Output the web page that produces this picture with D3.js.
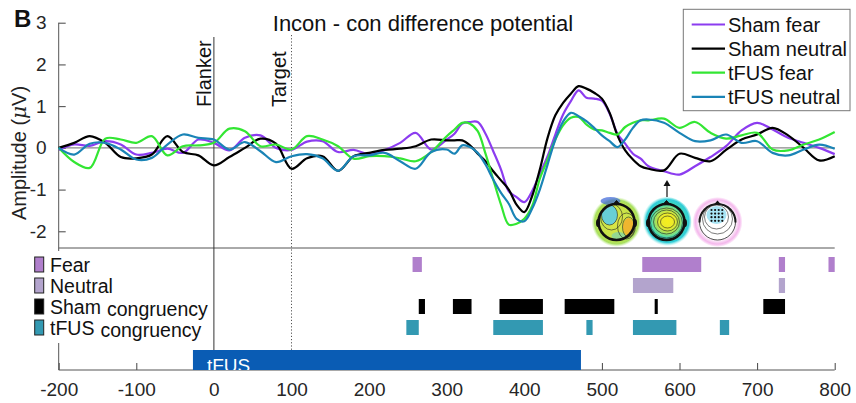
<!DOCTYPE html>
<html>
<head>
<meta charset="utf-8">
<script src="https://cdn.jsdelivr.net/npm/d3@7"></script>
<style>
body { margin: 0; background: #fff; }
svg { font-family: Arial, "Liberation Sans", Helvetica, sans-serif; }
</style>
</head>
<body>
<svg width="856" height="403"></svg>
<script>
// sampling times (ms), finer around the N2/P3 part
var times = [-200, -180, -160, -140, -120, -100, -80, -60, -40, -20, 0, 20, 40, 60, 80, 100, 120, 140, 160, 180, 200, 220, 240, 260, 280,
  300, 310, 320, 330, 340, 350, 360, 370, 380, 390, 400, 410, 420, 430, 440, 450, 460, 470, 480, 490, 500, 510, 520, 530, 540, 550, 560,
  580, 600, 620, 640, 660, 680, 700, 720, 740, 760, 780, 800];

var shamFear = [-0.05, 0.08, 0.05, 0.16, 0.08, -0.16, -0.12, -0.02, -0.12, 0.2, 0.12, -0.06, 0.24, 0.3, 0.0, -0.05, 0.15, 0.16, -0.1, -0.05, -0.15, -0.05, 0.12, 0.36, -0.04,
  0.2, 0.34, 0.58, 0.62, 0.62, 0.34, -0.08, -0.52, -1.04, -1.18, -1.3, -1.04, -0.62, -0.2, 0.32, 0.8, 1.12, 1.38, 1.2, 1.18, 1.13, 0.82, 0.34, 0.1, -0.14, -0.26, -0.44,
  -0.56, -0.64, -0.44, -0.22, 0.04, 0.42, 0.6, 0.44, 0.24, 0.12, 0.0, -0.15];

var shamNeutral = [0.0, 0.12, 0.28, 0.12, -0.22, -0.25, -0.16, 0.28, -0.1, -0.18, -0.42, -0.22, 0.0, 0.22, 0.1, -0.5, -0.25, -0.2, -0.55, -0.2, -0.12, -0.05, -0.02, 0.04, 0.2,
  0.18, 0.18, 0.18, 0.06, -0.14, -0.32, -0.56, -0.78, -1.0, -1.36, -1.54, -1.16, -0.52, 0.24, 0.78, 1.08, 1.3, 1.48, 1.42, 1.32, 1.18, 0.84, 0.3, -0.06, -0.28, -0.44, -0.5,
  -0.54, -0.14, -0.24, -0.32, -0.05, 0.2, 0.32, 0.48, 0.3, 0.0, -0.3, -0.2];

var tfusFear = [0.0, -0.34, -0.48, 0.22, 0.2, 0.12, 0.28, -0.18, 0.04, 0.06, 0.12, 0.46, 0.4, 0.04, 0.08, -0.04, 0.28, 0.2, 0.04, -0.26, -0.2, -0.2, -0.25, -0.32, -0.1,
  0.28, 0.44, 0.6, 0.58, 0.4, -0.14, -0.76, -1.36, -1.84, -1.82, -1.7, -1.4, -0.74, -0.28, 0.2, 0.54, 0.72, 0.74, 0.56, 0.44, 0.42, 0.36, 0.32, 0.5, 0.6, 0.66, 0.66,
  0.7, 0.48, 0.62, 0.36, 0.22, 0.3, 0.36, -0.04, -0.06, 0.08, 0.2, 0.38];

var tfusNeutral = [0.0, -0.16, 0.1, 0.12, -0.04, -0.28, -0.24, 0.08, 0.32, 0.24, 0.2, -0.04, 0.14, -0.08, -0.34, -0.2, -0.15, -0.25, -0.55, -0.2, -0.18, -0.12, -0.32, -0.5, -0.1,
  -0.04, -0.14, 0.06, 0.02, -0.12, -0.4, -0.76, -1.08, -1.34, -1.7, -1.76, -1.46, -1.0, -0.4, 0.2, 0.63, 0.84, 0.76, 0.64, 0.48, 0.3, 0.16, 0.02, 0.2, 0.48, 0.66, 0.68,
  0.6, 0.36, 0.16, 0.18, 0.32, 0.12, 0.16, -0.12, -0.18, -0.04, 0.08, -0.02];

var seriesNames = ['Sham fear', 'Sham neutral', 'tFUS fear', 'tFUS neutral'];
var seriesColors = ['#8c3cf0', '#000000', '#33e633', '#1a84b6'];

// significant windows (ms)
var sigRows = ['Fear', 'Neutral', 'Sham congruency', 'tFUS congruency'];
var fearSig = [[256, 268], [552, 628], [728, 736], [792, 800]];
var neutralSig = [[540, 592], [728, 736]];
var shamSig = [[264, 272], [308, 332], [368, 424], [452, 516], [568, 572], [708, 736]];
var tfusSig = [[248, 264], [360, 424], [480, 488], [540, 596], [652, 664]];
var sigColors = ['#b07fcc', '#b3a4cd', '#000000', '#3399b2'];

var tfusWindow = [-27, 473];
var yTicks = [-2, -1, 0, 1, 2, 3];
var xTicks = [-200, -100, 0, 100, 200, 300, 400, 500, 600, 700, 800];

var svg = d3.select('svg');
var x = d3.scaleLinear().domain([-200, 800]).range([58.7, 834.7]);
var y = d3.scaleLinear().domain([-2.4, 3]).range([248, 22.7]);
var bottomY = 370;

// zero line
svg.append('line')
  .attr('x1', x(-200)).attr('x2', x(800))
  .attr('y1', y(0)).attr('y2', y(0))
  .attr('stroke', '#888').attr('stroke-width', 1.2);

// axes
var yAxis = svg.append('g')
  .attr('transform', 'translate(' + x(-200) + ',0)')
  .call(d3.axisLeft(y).tickValues(yTicks).tickSizeInner(-7).tickSizeOuter(0).tickPadding(12).tickFormat(d => String(d)));
var xAxis = svg.append('g')
  .attr('transform', 'translate(0,' + bottomY + ')')
  .call(d3.axisBottom(x).tickValues(xTicks).tickSizeInner(-7).tickSizeOuter(0).tickPadding(13).tickFormat(d => String(d)));
[yAxis, xAxis].forEach(function (g) {
  g.select('.domain').remove();
  g.selectAll('.tick line').attr('stroke', '#444');
  g.selectAll('.tick text').attr('font-size', 19).attr('fill', '#262626')
    .attr('font-family', 'Arial, "Liberation Sans", sans-serif');
});

svg.append('line').attr('x1', x(-200)).attr('x2', x(-200)).attr('y1', y(3)).attr('y2', bottomY)
  .attr('stroke', '#555');
svg.append('line').attr('x1', x(-200)).attr('x2', x(800)).attr('y1', bottomY).attr('y2', bottomY)
  .attr('stroke', '#555');
svg.append('line').attr('x1', x(-200)).attr('x2', x(800)).attr('y1', y(-2.4)).attr('y2', y(-2.4))
  .attr('stroke', '#555');

// event markers
svg.append('line').attr('x1', x(0)).attr('x2', x(0)).attr('y1', 37).attr('y2', bottomY)
  .attr('stroke', '#333').attr('stroke-width', 1);
svg.append('line').attr('x1', x(100)).attr('x2', x(100)).attr('y1', 35).attr('y2', bottomY)
  .attr('stroke', '#555').attr('stroke-width', 1).attr('stroke-dasharray', '1.2,2');
svg.append('text').attr('transform', 'translate(' + (x(0) - 3.4) + ',107) rotate(-90)')
  .attr('font-size', 20).attr('fill', '#111').text('Flanker');
svg.append('text').attr('transform', 'translate(' + (x(100) - 5.7) + ',107) rotate(-90)')
  .attr('font-size', 20).attr('fill', '#111').text('Target');

// ERP lines
var line = d3.line()
  .x((d, i) => x(times[i]))
  .y(d => y(d))
  .curve(d3.curveCatmullRom.alpha(0.5));
[shamFear, shamNeutral, tfusFear, tfusNeutral].forEach(function (s, i) {
  svg.append('path')
    .attr('d', line(s))
    .attr('fill', 'none')
    .attr('stroke', seriesColors[i])
    .attr('stroke-width', 2.2)
    .attr('stroke-linejoin', 'round');
});

// significance bars
var row = d3.scaleBand().domain(sigRows).range([254, 338]).paddingInner(0.286).paddingOuter(0.143);
[fearSig, neutralSig, shamSig, tfusSig].forEach(function (wins, i) {
  svg.append('g').selectAll('rect')
    .data(wins)
    .enter()
    .append('rect')
      .attr('x', d => x(d[0]))
      .attr('width', d => x(d[1]) - x(d[0]))
      .attr('y', row(sigRows[i]))
      .attr('height', row.bandwidth())
      .attr('fill', sigColors[i]);
});

// tFUS stimulation bar
svg.append('clipPath').attr('id', 'tfusClip')
  .append('rect')
    .attr('x', x(tfusWindow[0])).attr('y', 350)
    .attr('width', x(tfusWindow[1]) - x(tfusWindow[0])).attr('height', bottomY - 350);
svg.append('rect')
  .attr('x', x(tfusWindow[0])).attr('y', 350)
  .attr('width', x(tfusWindow[1]) - x(tfusWindow[0])).attr('height', bottomY - 350)
  .attr('fill', '#0a5cb4');
svg.append('text').attr('clip-path', 'url(#tfusClip)')
  .attr('x', x(tfusWindow[0]) + 14).attr('y', 372)
  .attr('font-size', 19).attr('fill', '#fff').text('tFUS');

// legend for significance rows
svg.append('rect').attr('x', 28).attr('y', 251).attr('width', 181).attr('height', 92).attr('fill', '#fff');
var sigLegend = svg.append('g').selectAll('g')
  .data(sigRows)
  .enter()
  .append('g')
    .attr('transform', d => 'translate(0,' + row(d) + ')');
sigLegend.append('rect')
  .attr('x', 34.7).attr('y', 0).attr('width', 9).attr('height', row.bandwidth())
  .attr('fill', (d, i) => sigColors[i]).attr('stroke', '#222').attr('stroke-width', 1);
sigLegend.append('text')
  .attr('x', 50).attr('y', 14.5)
  .attr('font-size', 19.5).attr('fill', '#111')
  .each(function (d) {
    var parts = d.split(' ');
    var t = d3.select(this);
    t.append('tspan').text(parts[0]);
    if (parts[1]) t.append('tspan').attr('dx', 6).attr('dy', 2).text(parts[1]);
  });

// top-right legend
var lg = svg.append('g');
lg.append('rect').attr('x', 683.3).attr('y', 9.3).attr('width', 166.7).attr('height', 101.4)
  .attr('fill', '#fff').attr('stroke', '#777').attr('stroke-width', 1);
seriesNames.forEach(function (name, i) {
  var yy = 24.5 + i * 24.1;
  lg.append('line').attr('x1', 691.7).attr('x2', 725).attr('y1', yy).attr('y2', yy)
    .attr('stroke', seriesColors[i]).attr('stroke-width', 2.2);
  lg.append('text').attr('x', 728).attr('y', yy).attr('dy', '0.36em')
    .attr('font-size', 20).attr('fill', '#111').text(name);
});

// titles
svg.append('text').attr('x', 14).attr('y', 27).attr('font-size', 24).attr('font-weight', 'bold')
  .attr('fill', '#111').text('B');
svg.append('text').attr('x', 423).attr('y', 31).attr('text-anchor', 'middle')
  .attr('font-size', 22).attr('fill', '#111').text('Incon - con difference potential');
var yl = svg.append('text').attr('transform', 'translate(26,153) rotate(-90)')
  .attr('text-anchor', 'middle').attr('font-size', 20).attr('fill', '#222');
yl.append('tspan').text('Amplitude (');
yl.append('tspan').attr('font-style', 'italic').attr('font-family', '"DejaVu Serif", serif').text('\u03bc');
yl.append('tspan').text('V)');

// scalp maps
var defs = svg.append('defs');
function grad(id, stops, cx, cy) {
  var g = defs.append('radialGradient').attr('id', id).attr('cx', cx || '50%').attr('cy', cy || '50%').attr('r', '50%');
  stops.forEach(s => g.append('stop').attr('offset', s[0]).attr('stop-color', s[1]).attr('stop-opacity', s[2] == null ? 1 : s[2]));
}
grad('t1', [['0%', '#e0e444'], ['70%', '#c4e44a'], ['88%', '#a8e060'], ['100%', '#c8f0a0', 0]]);
grad('t2', [['0%', '#f6ee1c'], ['30%', '#eaea2c'], ['48%', '#a6e05a'], ['66%', '#44dcb4'], ['86%', '#30ccd8'], ['100%', '#90f0e8', 0]], '52%', '48%');
grad('t3', [['0%', '#ffffff'], ['70%', '#ffffff'], ['88%', '#f4b8ec'], ['100%', '#f4a0e8', 0]]);

function head(g) {
  g.append('circle').attr('r', 18).attr('fill', 'none').attr('stroke', '#111').attr('stroke-width', 2.6);
  g.append('path').attr('d', 'M-3.5,-17.5 L0,-21.5 L3.5,-17.5').attr('fill', '#111').attr('stroke', '#111');
  g.append('ellipse').attr('cx', -18.5).attr('cy', 1).attr('rx', 2).attr('ry', 4).attr('fill', '#111');
  g.append('ellipse').attr('cx', 18.5).attr('cy', 1).attr('rx', 2).attr('ry', 4).attr('fill', '#111');
}
function contour(g, cx, cy, rx, ry) {
  g.append('ellipse').attr('cx', cx).attr('cy', cy).attr('rx', rx).attr('ry', ry)
    .attr('fill', 'none').attr('stroke', '#222').attr('stroke-width', 0.6);
}

var m1 = svg.append('g').attr('transform', 'translate(616.5,222)');
m1.append('circle').attr('r', 25).attr('fill', 'url(#t1)');
m1.append('ellipse').attr('cx', -6).attr('cy', -21).attr('rx', 10).attr('ry', 4).attr('fill', '#3a64d8').attr('opacity', 0.7);
m1.append('ellipse').attr('cx', -7).attr('cy', -7).attr('rx', 8).attr('ry', 10).attr('fill', '#5ccce6').attr('opacity', 0.9);
m1.append('ellipse').attr('cx', 12).attr('cy', 5).attr('rx', 5.5).attr('ry', 9).attr('fill', '#f2b02c').attr('opacity', 0.9);
m1.append('ellipse').attr('cx', 2).attr('cy', 14).attr('rx', 7).attr('ry', 4).attr('fill', '#86d4a4').attr('opacity', 0.8);
contour(m1, -7, -7, 8, 10); contour(m1, -5, -5, 11, 13); contour(m1, 12, 5, 6, 10); contour(m1, 10, 4, 9, 13);
head(m1);

var m2 = svg.append('g').attr('transform', 'translate(666.5,222)');
m2.append('circle').attr('r', 25).attr('fill', 'url(#t2)');
contour(m2, 1, 0, 7, 6); contour(m2, 1, 0, 10, 9); contour(m2, 0, 0, 13, 12); contour(m2, 0, 1, 16, 15);
head(m2);

var m3 = svg.append('g').attr('transform', 'translate(717.5,222)');
m3.append('circle').attr('r', 25).attr('fill', 'url(#t3)');
m3.append('ellipse').attr('cx', -1).attr('cy', -7).attr('rx', 10).attr('ry', 9).attr('fill', '#a8e4f4');
contour(m3, -1, -5, 12, 12); contour(m3, 0, -3, 15, 15);
for (var gi = 0; gi < 4; gi++) {
  for (var gj = 0; gj < 4; gj++) {
    m3.append('circle').attr('cx', -6 + gi * 3.6).attr('cy', -12 + gj * 3.6).attr('r', 1.1).attr('fill', '#111');
  }
}
m3.append('path').attr('d', 'M-3.5,-17.5 L0,-21.5 L3.5,-17.5').attr('fill', '#111');
m3.append('path').attr('d', d3.arc()({ innerRadius: 17, outerRadius: 19, startAngle: -1.6, endAngle: 1.6 })).attr('fill', '#111');
m3.append('circle').attr('r', 18).attr('fill', 'none').attr('stroke', '#222').attr('stroke-width', 0.8);

// arrow over the middle map
svg.append('line').attr('x1', 667).attr('x2', 667).attr('y1', 197).attr('y2', 185).attr('stroke', '#111').attr('stroke-width', 1.2);
svg.append('path').attr('d', 'M663.5,186 L667,180 L670.5,186 Z').attr('fill', '#111');
</script>
</body>
</html>
